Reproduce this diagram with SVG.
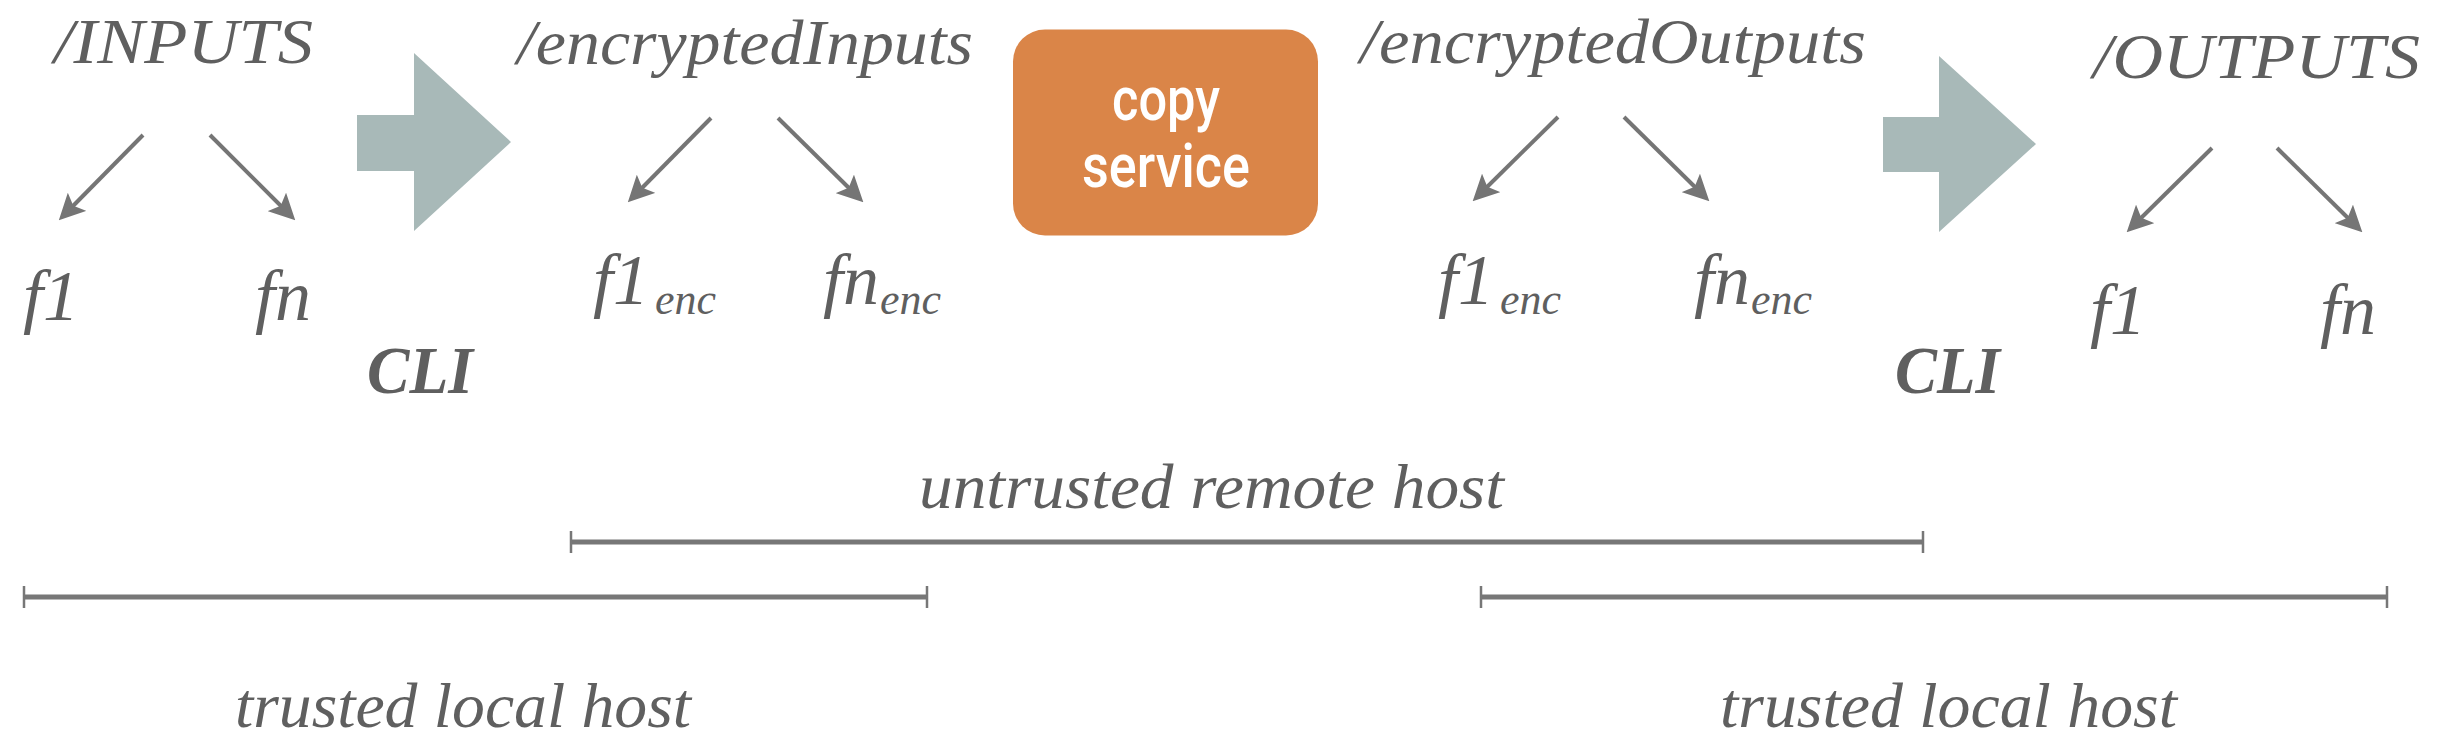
<svg xmlns="http://www.w3.org/2000/svg" width="2452" height="748" viewBox="0 0 2452 748">
  <style>
    .it { font-family: "Liberation Serif", "Times New Roman", serif; font-style: italic; fill: #5f5f5f; }
    .dir { font-size: 64px; }
    .file { font-size: 72px; }
    .sub { font-size: 44px; }
    .cli { font-family: "Liberation Serif", "Times New Roman", serif; font-style: italic; font-weight: bold; font-size: 68px; fill: #5f5f5f; }
    .host { font-size: 64px; }
    .svc { font-family: Roboto, "Liberation Sans", sans-serif; font-weight: 500; font-size: 61px; fill: #ffffff; }
    .edge { stroke: #757575; stroke-width: 4; fill: none; marker-end: url(#ah); }
    .block { fill: #a8b9b8; }
    .bar { stroke: #777777; stroke-width: 5; fill: none; }
    .tick { stroke: #777777; stroke-width: 2.5; fill: none; }
  </style>
  <defs>
    <marker id="ah" viewBox="0 0 12 12" refX="4" refY="6" markerWidth="6.5" markerHeight="6.5" orient="auto" markerUnits="strokeWidth">
      <path d="M0,0 L12,6 L0,12 L2.5,6 z" fill="#757575"/>
    </marker>
  </defs>

  <rect width="2452" height="748" fill="#ffffff"/>

  <!-- Nodes -->
  <g id="inputs">
    <text class="it dir" x="54" y="63" textLength="259" lengthAdjust="spacingAndGlyphs">/INPUTS</text>
    <text class="it file" x="23" y="320">f1</text>
    <text class="it file" x="255" y="320">fn</text>
  </g>

  <g id="cli-encrypt">
    <polygon class="block" points="357,115 414,115 414,53 511,142 414,231 414,171 357,171"/>
    <text class="cli" x="367" y="393" textLength="106" lengthAdjust="spacingAndGlyphs">CLI</text>
  </g>

  <g id="encrypted-inputs">
    <text class="it dir" x="517" y="64" textLength="456" lengthAdjust="spacingAndGlyphs">/encryptedInputs</text>
    <text class="it file" x="593" y="304">f1<tspan class="sub" dx="6" dy="10">enc</tspan></text>
    <text class="it file" x="823" y="304">fn<tspan class="sub" dx="1" dy="10">enc</tspan></text>
  </g>

  <g id="copy-service">
    <rect x="1013" y="29.5" width="305" height="206" rx="32" ry="32" fill="#da8548"/>
    <text class="svc" x="1166" y="120" text-anchor="middle" textLength="108" lengthAdjust="spacingAndGlyphs">copy</text>
    <text class="svc" x="1166" y="187" text-anchor="middle" textLength="168" lengthAdjust="spacingAndGlyphs">service</text>
  </g>

  <g id="encrypted-outputs">
    <text class="it dir" x="1360" y="63" textLength="506" lengthAdjust="spacingAndGlyphs">/encryptedOutputs</text>
    <text class="it file" x="1438" y="304">f1<tspan class="sub" dx="6" dy="10">enc</tspan></text>
    <text class="it file" x="1694" y="304">fn<tspan class="sub" dx="1" dy="10">enc</tspan></text>
  </g>

  <g id="cli-decrypt">
    <polygon class="block" points="1883,117 1939,117 1939,56 2036,144 1939,232 1939,172 1883,172"/>
    <text class="cli" x="1895" y="393" textLength="105" lengthAdjust="spacingAndGlyphs">CLI</text>
  </g>

  <g id="outputs">
    <text class="it dir" x="2093" y="77.5" textLength="327" lengthAdjust="spacingAndGlyphs">/OUTPUTS</text>
    <text class="it file" x="2090" y="334">f1</text>
    <text class="it file" x="2320" y="334">fn</text>
  </g>

  <g id="untrusted-remote-host">
    <text class="it host" x="919" y="508" textLength="585" lengthAdjust="spacingAndGlyphs">untrusted remote host</text>
    <line class="bar" x1="571" y1="542" x2="1923" y2="542"/>
    <line class="tick" x1="571" y1="531" x2="571" y2="553"/>
    <line class="tick" x1="1923" y1="531" x2="1923" y2="553"/>
  </g>

  <g id="trusted-local-host-left">
    <line class="bar" x1="24" y1="597" x2="927" y2="597"/>
    <line class="tick" x1="24" y1="586" x2="24" y2="608"/>
    <line class="tick" x1="927" y1="586" x2="927" y2="608"/>
    <text class="it host" x="235" y="727" textLength="456" lengthAdjust="spacingAndGlyphs">trusted local host</text>
  </g>

  <g id="trusted-local-host-right">
    <line class="bar" x1="1481" y1="597" x2="2387" y2="597"/>
    <line class="tick" x1="1481" y1="586" x2="1481" y2="608"/>
    <line class="tick" x1="2387" y1="586" x2="2387" y2="608"/>
    <text class="it host" x="1720" y="727" textLength="457" lengthAdjust="spacingAndGlyphs">trusted local host</text>
  </g>

  <!-- Connectors -->
  <g id="connectors">
    <line class="edge" x1="143" y1="135" x2="71" y2="208"/>
    <line class="edge" x1="210" y1="135" x2="283" y2="208"/>
    <line class="edge" x1="711" y1="118" x2="640" y2="190"/>
    <line class="edge" x1="778" y1="118" x2="851" y2="190"/>
    <line class="edge" x1="1558" y1="117" x2="1485" y2="189"/>
    <line class="edge" x1="1624" y1="117" x2="1697" y2="189"/>
    <line class="edge" x1="2212" y1="148" x2="2139" y2="220"/>
    <line class="edge" x1="2277" y1="148" x2="2350" y2="220"/>
  </g>
</svg>
